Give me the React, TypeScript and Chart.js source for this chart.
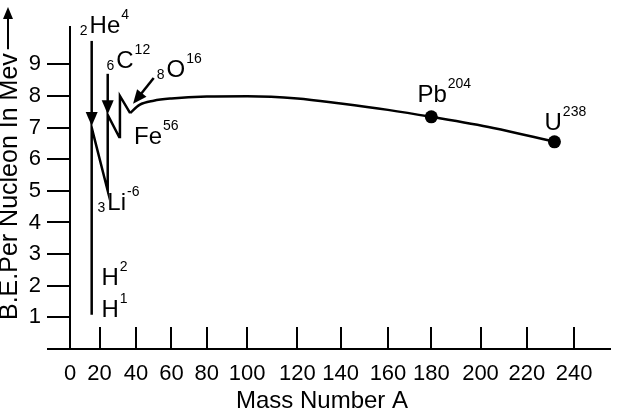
import React, { useEffect, useRef } from 'react';
import { Chart, registerables, LinearScale } from 'chart.js';

// ---------- data ----------
const massTicks = [0, 20, 40, 60, 80, 100, 120, 140, 160, 180, 200, 220, 240];
const beTicks = [0, 1, 2, 3, 4, 5, 6, 7, 8, 9];

// light nuclei zig-zag (H1 -> He4 -> Li6 -> C12 -> Fe -> O16)
const zigzagMass = [14.7, 14.7, 24.5, 24.5, 30.8, 31.2, 36.8];
const zigzagBE = [1.08, 7.0, 5.0, 7.4, 6.7, 8.0, 7.46];

// smooth binding-energy curve
const curveMass = [36.8, 42, 50, 60, 80, 100, 120, 140, 160, 180, 205.5, 231.7];
const curveBE = [7.46, 7.72, 7.85, 7.92, 7.98, 7.99, 7.92, 7.76, 7.56, 7.34, 6.99, 6.55];

// marked nuclei (Pb, U)
const markedMass = [180, 231.7];
const markedBE = [7.34, 6.55];

// isotope labels (anchor = left end of the element symbol, on its baseline)
const isoSymbol = ['He', 'C', 'O', 'Fe', 'Li', 'H', 'H', 'Pb', 'U'];
const isoSub = ['2', '6', '8', '', '3', '', '', '', ''];
const isoSup = ['4', '12', '16', '56', '-6', '2', '1', '204', '238'];
const isoMass = [13.3, 29.2, 57.2, 38.9, 24.3, 21.1, 21.1, 173.6, 227.5];
const isoBE = [9.99, 8.88, 8.6, 6.48, 4.4, 2.02, 1.01, 7.81, 6.92];

// pointer arrows
const arrowFromMass = [14.7, 24.5, 50.0];
const arrowFromBE = [9.74, 8.7, 8.57];
const arrowToMass = [14.7, 24.5, 38.4];
const arrowToBE = [7.05, 7.42, 7.75];

// hand-drawn (non-uniform) mass axis: where each stop falls along the axis
const axisStops = [0, 20, 40, 60, 80, 100, 120, 140, 160, 180, 200, 220, 240, 255];
const axisStopFractions = [0, 0.0547, 0.1223, 0.188, 0.2536, 0.3285, 0.4215, 0.5018, 0.5894, 0.6697, 0.7609, 0.8467, 0.9343, 1];

class HandDrawnScale extends LinearScale {
  static id = 'handdrawn';
  static defaults = LinearScale.defaults;
  getPixelForValue(value: any) {
    if (value === null || value === undefined || isNaN(+value)) return NaN;
    const v = +value;
    let i = 0;
    while (i < axisStops.length - 2 && v > axisStops[i + 1]) i++;
    const t = (v - axisStops[i]) / (axisStops[i + 1] - axisStops[i]);
    const f = axisStopFractions[i] + t * (axisStopFractions[i + 1] - axisStopFractions[i]);
    return this.getPixelForDecimal(f);
  }
  getValueForPixel(pixel: number) {
    const f = this.getDecimalForPixel(pixel);
    let i = 0;
    while (i < axisStopFractions.length - 2 && f > axisStopFractions[i + 1]) i++;
    const t = (f - axisStopFractions[i]) / (axisStopFractions[i + 1] - axisStopFractions[i]);
    return axisStops[i] + t * (axisStops[i + 1] - axisStops[i]);
  }
}

Chart.register(...registerables, HandDrawnScale);

const FONT = '"Liberation Sans", Arial, Helvetica, sans-serif';

function drawArrow(ctx: CanvasRenderingContext2D, x1: number, y1: number, x2: number, y2: number, len = 14, half = 6) {
  const a = Math.atan2(y2 - y1, x2 - x1);
  const bx = x2 - len * Math.cos(a);
  const by = y2 - len * Math.sin(a);
  ctx.beginPath();
  ctx.moveTo(x1, y1);
  ctx.lineTo(bx + 2 * Math.cos(a), by + 2 * Math.sin(a));
  ctx.stroke();
  ctx.beginPath();
  ctx.moveTo(x2, y2);
  ctx.lineTo(bx - half * Math.sin(a), by + half * Math.cos(a));
  ctx.lineTo(bx + half * Math.sin(a), by - half * Math.cos(a));
  ctx.closePath();
  ctx.fill();
}

const annotate = {
  id: 'annotate',
  afterDatasetsDraw(chart: any) {
    const { ctx, scales } = chart;
    const xs = scales.x;
    const ys = scales.y;
    ctx.save();
    ctx.strokeStyle = '#000';
    ctx.fillStyle = '#000';
    ctx.lineWidth = 2.5;
    ctx.lineCap = 'butt';
    for (let i = 0; i < arrowFromMass.length; i++) {
      drawArrow(
        ctx,
        xs.getPixelForValue(arrowFromMass[i]),
        ys.getPixelForValue(arrowFromBE[i]),
        xs.getPixelForValue(arrowToMass[i]),
        ys.getPixelForValue(arrowToBE[i])
      );
    }
    const big = `24px ${FONT}`;
    const small = `14px ${FONT}`;
    ctx.textBaseline = 'alphabetic';
    ctx.textAlign = 'left';
    for (let i = 0; i < isoSymbol.length; i++) {
      const px = xs.getPixelForValue(isoMass[i]);
      const py = ys.getPixelForValue(isoBE[i]);
      if (isoSub[i]) {
        ctx.font = small;
        const w = ctx.measureText(isoSub[i]).width;
        ctx.fillText(isoSub[i], px - w - 2, py + 2);
      }
      ctx.font = big;
      const mw = ctx.measureText(isoSymbol[i]).width;
      ctx.fillText(isoSymbol[i], px, py);
      if (isoSup[i]) {
        ctx.font = small;
        ctx.fillText(isoSup[i], px + mw + 1, py - 14);
      }
    }
    // x axis title
    ctx.font = `24px ${FONT}`;
    ctx.textAlign = 'center';
    ctx.fillText('Mass Number A', 322, 408);
    // y axis title with arrow
    ctx.save();
    ctx.translate(17, 320);
    ctx.rotate(-Math.PI / 2);
    ctx.font = `25px ${FONT}`;
    ctx.textAlign = 'left';
    const yt = 'B.E.Per Nucleon In Mev';
    ctx.fillText(yt, 0, 0);
    const tw = ctx.measureText(yt).width;
    ctx.lineWidth = 2;
    drawArrow(ctx, tw + 4, -9, 313, -9, 12, 5);
    ctx.restore();
    ctx.restore();
  },
};

export default function App() {
  const ref = useRef<HTMLCanvasElement | null>(null);
  useEffect(() => {
    document.body.style.margin = '0';
    const canvas = ref.current;
    if (!canvas) return;
    const chart = new Chart(canvas, {
      type: 'line',
      data: {
        datasets: [
          {
            data: zigzagMass.map((m, i) => ({ x: m, y: zigzagBE[i] })),
            borderColor: '#000',
            borderWidth: 2.5,
            pointRadius: 0,
            tension: 0,
            fill: false,
          },
          {
            data: curveMass.map((m, i) => ({ x: m, y: curveBE[i] })),
            borderColor: '#000',
            borderWidth: 2.5,
            pointRadius: 0,
            cubicInterpolationMode: 'monotone',
            fill: false,
          },
          {
            data: markedMass.map((m, i) => ({ x: m, y: markedBE[i] })),
            showLine: false,
            pointRadius: 6.5,
            pointBackgroundColor: '#000',
            pointBorderColor: '#000',
            pointBorderWidth: 0,
          },
        ],
      } as any,
      options: {
        responsive: false,
        maintainAspectRatio: false,
        animation: false,
        events: [],
        layout: { padding: { top: 27, right: 9, left: 0, bottom: 0 } },
        plugins: { legend: { display: false }, tooltip: { enabled: false } },
        scales: {
          x: {
            type: 'handdrawn' as any,
            min: 0,
            max: 255,
            afterBuildTicks: (s: any) => {
              s.ticks = massTicks.map((v) => ({ value: v }));
            },
            afterFit: (s: any) => {
              s.height = 62;
            },
            border: { display: true, color: '#000', width: 2 },
            grid: { drawOnChartArea: false, drawTicks: true, tickLength: -22, color: '#000', lineWidth: 2 },
            ticks: {
              autoSkip: false,
              maxRotation: 0,
              padding: 34,
              color: '#000',
              font: { family: FONT, size: 22 },
              callback: (v: any) => String(v),
            },
          },
          y: {
            type: 'linear',
            min: 0,
            max: 10.18,
            afterBuildTicks: (s: any) => {
              s.ticks = beTicks.map((v) => ({ value: v }));
            },
            afterFit: (s: any) => {
              s.width = 70;
            },
            border: { display: true, color: '#000', width: 2 },
            grid: { drawOnChartArea: false, drawTicks: true, tickLength: 23, color: '#000', lineWidth: 2 },
            ticks: {
              padding: 6,
              color: '#000',
              font: { family: FONT, size: 22 },
              callback: (v: any) => (v === 0 ? '' : String(v)),
            },
          },
        },
      } as any,
      plugins: [annotate],
    });
    return () => chart.destroy();
  }, []);
  return <canvas ref={ref} width={627} height={411} style={{ display: 'block' }} />;
}
